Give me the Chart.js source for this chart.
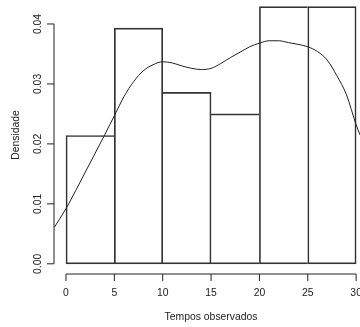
<!DOCTYPE html>
<html lang="pt">

<head>
  <meta charset="UTF-8" />
  <title>Densidade</title>
  <script src="https://cdn.jsdelivr.net/npm/chart.js@4.4.1/dist/chart.umd.min.js"></script>
  <style>
    html, body { margin: 0; padding: 0; background: #fff; }
    #wrap { width: 360px; height: 327px; }
  </style>
</head>

<body>
  <div id="wrap">
    <canvas id="histChart" width="360" height="327"></canvas>
  </div>

  <script>
    // histogram: bin centres (width 5) and densities
    const binCenters = [2.5, 7.5, 12.5, 17.5, 22.5, 27.5];
    const binDensity = [0.0214, 0.0393, 0.0286, 0.0250, 0.0429, 0.0429];

    // kernel density curve
    const curveX = [-1.2, 0, 1, 2, 3, 4, 5, 6, 7, 8, 9, 10, 11, 12, 13, 14, 15,
      16, 17, 18, 19, 20, 21, 22, 23, 24, 25, 26, 27, 28, 29, 30, 30.4];
    const curveY = [0.0061, 0.0092, 0.0122, 0.0153, 0.0184, 0.0215, 0.0247, 0.0279,
      0.0304, 0.0322, 0.0332, 0.0337, 0.0335, 0.0330, 0.0326, 0.0324, 0.0326,
      0.0334, 0.0344, 0.0353, 0.0362, 0.0368, 0.0372, 0.0372, 0.0369, 0.0366,
      0.0362, 0.0354, 0.0340, 0.0314, 0.0282, 0.0232, 0.0215];

    const xTicks = [0, 5, 10, 15, 20, 25, 30];
    const yTicks = [0, 0.01, 0.02, 0.03, 0.04];
    const yTickLabels = ["0.00", "0.01", "0.02", "0.03", "0.04"];
    const xTitle = "Tempos observados";
    const yTitle = "Densidade";

    const FONT = '10.4px "Liberation Sans", Arial, sans-serif';
    const TEXT = "#222";
    const LINE = "#222";
    const BAR_LINE = "#333";

    // shared bin edges are drawn once, by the taller bar
    function barBorder(c) {
      const i = c.dataIndex;
      const h = binDensity[i];
      const last = binDensity.length - 1;
      return {
        top: 1,
        bottom: 1,
        left: i === 0 || binDensity[i - 1] <= h ? 1 : 0,
        right: i === last || binDensity[i + 1] < h ? 1 : 0,
      };
    }

    // R style axes, drawn from the chart scales
    const rAxes = {
      id: "rAxes",
      afterDraw(chart) {
        const ctx = chart.ctx;
        const xs = chart.scales.x;
        const ys = chart.scales.y;
        const area = chart.chartArea;
        ctx.save();
        ctx.strokeStyle = LINE;
        ctx.lineWidth = 1;
        ctx.fillStyle = TEXT;
        ctx.font = FONT;

        // y axis
        const ax = area.left;
        ctx.beginPath();
        ctx.moveTo(ax, ys.getPixelForValue(yTicks[0]));
        ctx.lineTo(ax, ys.getPixelForValue(yTicks[yTicks.length - 1]));
        yTicks.forEach((v) => {
          const py = ys.getPixelForValue(v);
          ctx.moveTo(ax, py);
          ctx.lineTo(ax - 7, py);
        });
        ctx.stroke();
        yTicks.forEach((v, i) => {
          const py = ys.getPixelForValue(v);
          ctx.save();
          ctx.translate(ax - 16, py);
          ctx.rotate(-Math.PI / 2);
          ctx.textAlign = "center";
          ctx.textBaseline = "middle";
          ctx.fillText(yTickLabels[i], 0, 0);
          ctx.restore();
        });
        ctx.save();
        ctx.translate(16, (area.top - 4 + area.bottom) / 2);
        ctx.rotate(-Math.PI / 2);
        ctx.textAlign = "center";
        ctx.textBaseline = "middle";
        ctx.fillText(yTitle, 0, 0);
        ctx.restore();

        // x axis
        const ay = area.bottom;
        ctx.beginPath();
        ctx.moveTo(xs.getPixelForValue(xTicks[0]), ay);
        ctx.lineTo(xs.getPixelForValue(xTicks[xTicks.length - 1]), ay);
        xTicks.forEach((v) => {
          const px = xs.getPixelForValue(v);
          ctx.moveTo(px, ay);
          ctx.lineTo(px, ay + 7);
        });
        ctx.stroke();
        ctx.textAlign = "center";
        ctx.textBaseline = "middle";
        xTicks.forEach((v) => {
          ctx.fillText(String(v), xs.getPixelForValue(v), ay + 19);
        });
        ctx.fillText(xTitle, xs.getPixelForValue(15), ay + 43);
        ctx.restore();
      },
    };

    const histChart = new Chart(document.getElementById("histChart").getContext("2d"), {
      type: "bar",
      data: {
        datasets: [
          {
            type: "line",
            label: "densidade",
            data: curveX.map((x, i) => ({ x: x, y: curveY[i] })),
            borderColor: LINE,
            borderWidth: 1,
            pointRadius: 0,
            cubicInterpolationMode: "monotone",
            fill: false,
            order: 0,
          },
          {
            type: "bar",
            label: "histograma",
            data: binCenters.map((x, i) => ({ x: x, y: binDensity[i] })),
            backgroundColor: "rgba(0,0,0,0)",
            borderColor: BAR_LINE,
            borderSkipped: false,
            borderWidth: barBorder,
            barPercentage: 1,
            categoryPercentage: 1,
            order: 1,
          },
        ],
      },
      options: {
        responsive: false,
        animation: false,
        layout: { padding: { left: 54, top: 0, right: 0, bottom: 53 } },
        plugins: { legend: { display: false }, tooltip: { enabled: false } },
        scales: {
          x: { type: "linear", min: -1.24, max: 30.4, offset: false, display: false },
          y: { type: "linear", min: -0.0017, max: 0.044, display: false },
        },
      },
      plugins: [rAxes],
    });
  </script>
</body>

</html>
